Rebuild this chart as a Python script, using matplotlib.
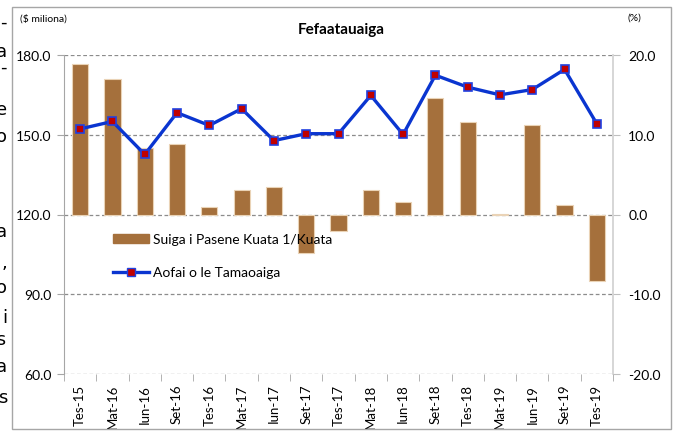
import numpy as np
import matplotlib.pyplot as plt
from matplotlib.patches import Rectangle
from matplotlib.lines import Line2D

plt.rcParams['font.family'] = ['Lato', 'DejaVu Sans']

quarters = ['Tes-15', 'Mat-16', 'Iun-16', 'Set-16', 'Tes-16', 'Mat-17', 'Iun-17', 'Set-17',
            'Tes-17', 'Mat-18', 'Iun-18', 'Set-18', 'Tes-18', 'Mat-19', 'Iun-19', 'Set-19', 'Tes-19']
# percent change quarter on quarter (right axis)
qoq_change = [18.9, 17.0, 8.4, 8.9, 0.9, 3.1, 3.5, -4.8, -2.1, 3.1,
              1.6, 14.6, 11.6, 0.1, 11.2, 1.2, -8.3]
# total value, $ millions (left axis)
total_value = [152.2, 155.0, 142.6, 158.3, 153.5, 159.8, 147.8, 150.4, 150.4, 164.8,
               150.1, 172.4, 167.9, 165.0, 167.0, 174.6, 154.1]

left_ticks = [60, 90, 120, 150, 180]
right_ticks = [-20, -10, 0, 10, 20]

W, H = 676, 435
fig = plt.figure(figsize=(W / 100, H / 100), dpi=100)

# outer chart frame
fig.patches.append(Rectangle((12 / W, 1 - 430 / H), (671 - 12) / W, (430 - 8) / H,
                             transform=fig.transFigure, fill=False,
                             edgecolor='#a6a6a6', linewidth=1.0))

ax1 = fig.add_axes([64 / W, 1 - 375 / H, (613 - 64) / W, (375 - 56) / H])
ax2 = ax1.twinx()
ax1.set_zorder(ax2.get_zorder() + 1)
ax1.patch.set_visible(False)

x = np.arange(len(quarters))

ax2.bar(x, qoq_change, width=0.5, color='#a5703c', edgecolor='#ead3b6',
        linewidth=0.8, zorder=3)
ax1.plot(x, total_value, color='#0a35d0', linewidth=2.4, marker='s',
         markersize=5.5, markerfacecolor='#c00000', markeredgecolor='#2040e0',
         markeredgewidth=1.2, zorder=4)

ax1.set_xlim(-0.5, len(quarters) - 0.5)
ax1.set_ylim(60, 180)
ax2.set_ylim(-20, 20)
ax1.set_yticks(left_ticks)
ax1.set_yticklabels([f'{v:.1f}' for v in left_ticks], fontsize=10)
ax2.set_yticks(right_ticks)
ax2.set_yticklabels([f'{v:.1f}' for v in right_ticks], fontsize=10)

ax2.set_axisbelow(True)
ax2.yaxis.grid(True, linestyle=(0, (3, 2)), color='#8c8c8c', linewidth=0.9)

ax1.set_xticks(x)
ax1.set_xticklabels(quarters, rotation=90, fontsize=9.5)
ax1.set_xticks(np.arange(-0.5, len(quarters), 1.0), minor=True)
ax1.tick_params(axis='x', which='major', length=0, pad=7)
ax1.tick_params(axis='x', which='minor', length=5, color='#a6a6a6', direction='out')
ax1.tick_params(axis='y', length=5, color='#a6a6a6', pad=4)
ax2.tick_params(axis='y', length=5, color='#bfbfbf', pad=6)

for a in (ax1, ax2):
    a.spines['top'].set_visible(False)
    a.spines['bottom'].set_visible(False)
ax1.spines['right'].set_visible(False)
ax1.spines['left'].set_color('#a6a6a6')
ax2.spines['left'].set_visible(False)
ax2.spines['right'].set_color('#d0d0d0')
ax2.spines['right'].set_linewidth(1.2)

handles = [Rectangle((0, 0), 1, 1, facecolor='#a5703c', edgecolor='#a5703c'),
           Line2D([], [], color='#0a35d0', linewidth=2.4, marker='s', markersize=5.5,
                  markerfacecolor='#c00000', markeredgecolor='#2040e0')]
leg = ax1.legend(handles, ['Suiga i Pasene Kuata 1/Kuata', 'Aofai o le Tamaoaiga'],
                 loc='upper left', bbox_to_anchor=(100 / W, 1 - 222 / H),
                 bbox_transform=fig.transFigure, frameon=False, fontsize=10,
                 handlelength=2.6, handleheight=0.6, labelspacing=1.5, handletextpad=0.3)
leg.set_zorder(10)

fig.text(341 / W, 1 - 30 / H, 'Fefaatauaiga', ha='center', va='center',
         fontsize=11, fontweight='bold')
fig.text(20 / W, 1 - 19 / H, '($ miliona)', ha='left', va='center', fontsize=7.5)
fig.text(628 / W, 1 - 18 / H, '(%)', ha='left', va='center', fontsize=7.5)

# clipped text of the surrounding document at the left edge
fragments = [('-', 23), ('a', 52), ('-', 68), ('e', 110), ('o', 137), ('a', 232),
             (',', 263), ('o', 288), ('i', 318), ('’s', 340), ('a', 367), ('s', 398)]
for ch, yy in fragments:
    fig.text(7 / W, 1 - yy / H, ch, ha='right', va='center', fontsize=13,
             family=['DejaVu Sans'])

plt.savefig('out.png', dpi=100)
